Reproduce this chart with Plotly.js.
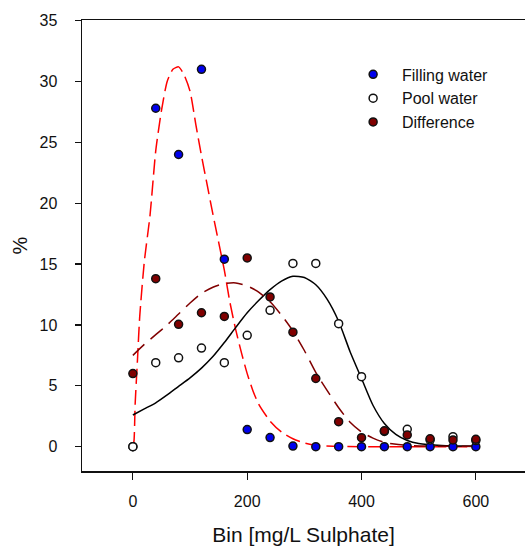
<!DOCTYPE html>
<html>
<head>
<meta charset="utf-8">
<script src="https://cdn.plot.ly/plotly-3.0.1.min.js"></script>
<style>html,body{margin:0;padding:0;background:#fff;overflow:hidden;}</style>
</head>
<body>
<div id="chart" style="width:525px;height:548px;"></div>
<script>
// Bins (mg/L sulphate)
const bins = [0, 40, 80, 120, 160, 200, 240, 280, 320, 360, 400, 440, 480, 520, 560, 600];
// Observed percentages
const fillingWater = [0, 27.8, 24.0, 31.0, 15.4, 1.4, 0.75, 0.05, 0, 0, 0, 0, 0, 0, 0, 0];
const poolWater    = [0, 6.9, 7.3, 8.1, 6.9, 9.15, 11.2, 15.05, 15.05, 10.1, 5.75, 1.25, 1.43, 0.55, 0.82, 0.5];
const difference   = [6.0, 13.8, 10.05, 11.0, 10.7, 15.5, 12.3, 9.4, 5.6, 2.05, 0.74, 1.3, 0.96, 0.65, 0.55, 0.6];

// Fitted curves
const fitFillX = [0, 2, 4, 8, 12, 20, 30, 40, 50, 60, 70, 80, 90, 100, 110, 120, 130, 140, 150, 160, 170, 180, 190, 200, 210, 220, 240, 260, 280, 300, 320, 350, 400, 500, 600];
const fitFillY = [0, 0.5, 3.5, 7.1, 10.7, 15.2, 19.0, 24.3, 27.6, 30.0, 31.0, 31.2, 30.5, 29.2, 26.5, 23.9, 21.5, 19.1, 16.8, 14.5, 11.8, 9.6, 7.7, 6.0, 4.6, 3.5, 2.1, 1.2, 0.65, 0.3, 0.12, 0.03, 0, 0, 0];

const fitPoolX = [0, 20, 40, 60, 80, 100, 120, 140, 160, 180, 200, 220, 240, 260, 280, 300, 320, 340, 360, 380, 400, 420, 440, 460, 480, 500, 540, 600];
const fitPoolY = [2.6, 3.1, 3.6, 4.25, 4.95, 5.65, 6.45, 7.4, 8.55, 9.8, 11.0, 12.0, 12.9, 13.6, 14.0, 13.9, 13.3, 12.1, 10.3, 7.8, 5.6, 3.4, 1.9, 1.0, 0.5, 0.25, 0.1, 0.05];

const fitDiffX = [0, 20, 40, 60, 80, 100, 120, 140, 160, 180, 200, 220, 240, 260, 280, 300, 320, 340, 360, 380, 400, 420, 440, 480, 520, 600];
const fitDiffY = [7.5, 8.4, 9.2, 10.0, 10.9, 11.8, 12.6, 13.1, 13.4, 13.45, 13.2, 12.7, 11.9, 10.8, 9.5, 7.9, 6.1, 4.6, 3.2, 2.0, 1.2, 0.7, 0.35, 0.1, 0.05, 0.02];

const seriesNames = ['Filling water', 'Pool water', 'Difference'];
const NB = '\u00a0\u00a0';

const traces = [
  {x: fitFillX, y: fitFillY, mode: 'lines', showlegend: false, hoverinfo: 'skip',
   line: {color: '#ff0000', width: 1.5, dash: '15px,6px', shape: 'spline', smoothing: 0.6}},
  {x: fitPoolX, y: fitPoolY, mode: 'lines', showlegend: false, hoverinfo: 'skip',
   line: {color: '#000000', width: 1.5, shape: 'spline', smoothing: 0.6}},
  {x: fitDiffX, y: fitDiffY, mode: 'lines', showlegend: false, hoverinfo: 'skip',
   line: {color: '#800000', width: 1.5, dash: '16px,8px', shape: 'spline', smoothing: 0.6}},
  {x: bins, y: fillingWater, mode: 'markers', name: NB + seriesNames[0],
   marker: {symbol: 'circle', size: 8, color: '#0000ee', line: {color: '#111', width: 1.5}}},
  {x: bins, y: poolWater, mode: 'markers', name: NB + seriesNames[1],
   marker: {symbol: 'circle', size: 8, color: '#ffffff', line: {color: '#111', width: 1.5}}},
  {x: bins, y: difference, mode: 'markers', name: NB + seriesNames[2],
   marker: {symbol: 'circle', size: 8, color: '#800000', line: {color: '#111', width: 1.5}}}
];

const layout = {
  width: 525, height: 548,
  margin: {l: 82, r: 0, t: 20, b: 77, pad: 0},
  paper_bgcolor: '#ffffff', plot_bgcolor: '#ffffff',
  font: {family: '"Liberation Sans", Arial, sans-serif', size: 16, color: '#111'},
  showlegend: true,
  legend: {x: 0.612, y: 0.917, xanchor: 'left', yanchor: 'top', bgcolor: 'rgba(0,0,0,0)',
           font: {size: 16, color: '#111'}, tracegroupgap: 0},
  xaxis: {
    range: [-89, 686], tickvals: [0, 200, 400, 600], ticktext: ['0', '200', '400', '600'],
    showgrid: false, zeroline: false, showline: true, linecolor: '#111', linewidth: 1.5,
    mirror: true, ticks: 'outside', ticklen: 7, tickwidth: 1.2, tickcolor: '#111',
    ticklabelstandoff: 8,
    title: {text: 'Bin [mg/L Sulphate]', font: {size: 21, color: '#111'}, standoff: 18}
  },
  yaxis: {
    range: [-2, 35.05], tickvals: [0, 5, 10, 15, 20, 25, 30, 35],
    showgrid: false, zeroline: false, showline: true, linecolor: '#111', linewidth: 1.5,
    mirror: false, ticks: 'outside', ticklen: 6, tickwidth: 1.2, tickcolor: '#111',
    ticklabelstandoff: 14,
    title: {text: '%', font: {size: 20, color: '#111'}, standoff: 6}
  }
};

Plotly.newPlot('chart', traces, layout, {displayModeBar: false, staticPlot: true});
</script>
</body>
</html>
